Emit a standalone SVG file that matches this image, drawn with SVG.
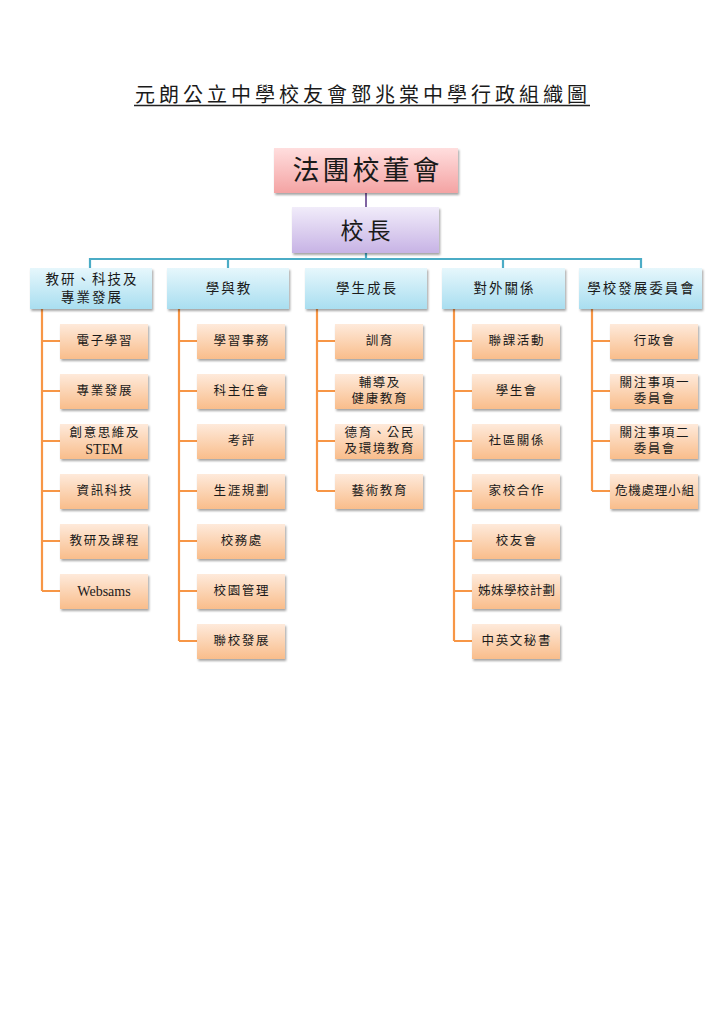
<svg xmlns="http://www.w3.org/2000/svg" width="724" height="1024" viewBox="0 0 724 1024">
<defs>
<linearGradient id="gPink" x1="0" y1="0" x2="0" y2="1"><stop offset="0" stop-color="#ffdede"/><stop offset="1" stop-color="#f4a3a3"/></linearGradient>
<linearGradient id="gLav" x1="0" y1="0" x2="0" y2="1"><stop offset="0" stop-color="#f1ecfa"/><stop offset="1" stop-color="#c7b3e5"/></linearGradient>
<linearGradient id="gBlue" x1="0" y1="0" x2="0" y2="1"><stop offset="0" stop-color="#e6f7fc"/><stop offset="1" stop-color="#a9def0"/></linearGradient>
<linearGradient id="gOr" x1="0" y1="0" x2="0" y2="1"><stop offset="0" stop-color="#feeadb"/><stop offset="1" stop-color="#f9bd8b"/></linearGradient>
<filter id="sh" x="-10%" y="-10%" width="130%" height="140%"><feDropShadow dx="1.2" dy="2" stdDeviation="1" flood-color="#000" flood-opacity="0.35"/></filter>
</defs>
<style>
text{font-family:"Liberation Serif","Noto Sans CJK TC",serif;fill:#1a1a1a;text-anchor:middle;dominant-baseline:central}
.top{fill:url(#gPink);filter:url(#sh)}
.pr{fill:url(#gLav);filter:url(#sh)}
.hd{fill:url(#gBlue);filter:url(#sh)}
.ch{fill:url(#gOr);filter:url(#sh)}
.t1{font-size:27px;letter-spacing:3px}
.t2{font-size:23px;letter-spacing:4px}
.th{font-size:13.5px;letter-spacing:2px}
.tc{font-size:12.5px;letter-spacing:1.6px}
.en{font-size:14px;letter-spacing:0}
.lp{stroke:#8064a2;stroke-width:2;fill:none}
.lb{stroke:#4bacc6;stroke-width:2.2;fill:none}
.lo{stroke:#f79646;stroke-width:2.2;fill:none}
</style>
<rect width="724" height="1024" fill="#ffffff"/>
<g id="title">
<text x="363" y="95" style="font-size:20px;letter-spacing:4px">元朗公立中學校友會鄧兆棠中學行政組織圖</text>
<line x1="134" y1="105.5" x2="590" y2="105.5" stroke="#222" stroke-width="1.3"/>
</g>
<g id="connectors">
<line class="lp" x1="366" y1="193" x2="366" y2="208"/>
<path class="lb" d="M366 253V259M90 268V259H641V268M228 259V268M503 259V268"/>
<path class="lo" d="M42 309V591M42 341H60M42 391H60M42 441H60M42 491H60M42 541H60M42 591H60"/>
<path class="lo" d="M179 309V641M179 341H197M179 391H197M179 441H197M179 491H197M179 541H197M179 591H197M179 641H197"/>
<path class="lo" d="M317 309V491M317 341H335M317 391H335M317 441H335M317 491H335"/>
<path class="lo" d="M454 309V641M454 341H472M454 391H472M454 441H472M454 491H472M454 541H472M454 591H472M454 641H472"/>
<path class="lo" d="M592 309V491M592 341H610M592 391H610M592 441H610M592 491H610"/>
</g>
<g id="board"><rect class="top" x="274" y="148" width="184" height="45"/><text class="t1" x="367.5" y="171">法團校董會</text></g>
<g id="principal"><rect class="pr" x="292" y="207" width="147" height="46"/><text class="t2" x="367.5" y="231">校長</text></g>

<g id="h1"><rect class="hd" x="30" y="268" width="122" height="41"/><text class="th" x="92" y="279">教研、科技及</text><text class="th" x="92" y="297">專業發展</text></g>
<g id="h2"><rect class="hd" x="167" y="268" width="122" height="41"/><text class="th" x="229" y="288">學與教</text></g>
<g id="h3"><rect class="hd" x="305" y="268" width="122" height="41"/><text class="th" x="367" y="288">學生成長</text></g>
<g id="h4"><rect class="hd" x="442" y="268" width="123" height="41"/><text class="th" x="504.5" y="288">對外關係</text></g>
<g id="h5"><rect class="hd" x="579" y="268" width="123" height="41"/><text class="th" x="641.5" y="288">學校發展委員會</text></g>

<g id="c1a"><rect class="ch" x="60" y="324" width="88" height="35"/><text class="tc" x="104.8" y="341">電子學習</text></g>
<g id="c1b"><rect class="ch" x="60" y="374" width="88" height="35"/><text class="tc" x="104.8" y="391">專業發展</text></g>
<g id="c1c"><rect class="ch" x="60" y="424" width="88" height="35"/><text class="tc" x="104.8" y="433">創意思維及</text><text class="en" x="104" y="449">STEM</text></g>
<g id="c1d"><rect class="ch" x="60" y="474" width="88" height="35"/><text class="tc" x="104.8" y="491">資訊科技</text></g>
<g id="c1e"><rect class="ch" x="60" y="524" width="88" height="35"/><text class="tc" x="104.8" y="541">教研及課程</text></g>
<g id="c1f"><rect class="ch" x="60" y="574" width="88" height="35"/><text class="en" x="104" y="591">Websams</text></g>

<g id="c2a"><rect class="ch" x="197" y="324" width="88" height="35"/><text class="tc" x="241.8" y="341">學習事務</text></g>
<g id="c2b"><rect class="ch" x="197" y="374" width="88" height="35"/><text class="tc" x="241.8" y="391">科主任會</text></g>
<g id="c2c"><rect class="ch" x="197" y="424" width="88" height="35"/><text class="tc" x="241.8" y="441">考評</text></g>
<g id="c2d"><rect class="ch" x="197" y="474" width="88" height="35"/><text class="tc" x="241.8" y="491">生涯規劃</text></g>
<g id="c2e"><rect class="ch" x="197" y="524" width="88" height="35"/><text class="tc" x="241.8" y="541">校務處</text></g>
<g id="c2f"><rect class="ch" x="197" y="574" width="88" height="35"/><text class="tc" x="241.8" y="591">校園管理</text></g>
<g id="c2g"><rect class="ch" x="197" y="624" width="88" height="35"/><text class="tc" x="241.8" y="641">聯校發展</text></g>

<g id="c3a"><rect class="ch" x="335" y="324" width="88" height="35"/><text class="tc" x="379.8" y="341">訓育</text></g>
<g id="c3b"><rect class="ch" x="335" y="374" width="88" height="35"/><text class="tc" x="379.8" y="383">輔導及</text><text class="tc" x="379.8" y="399">健康教育</text></g>
<g id="c3c"><rect class="ch" x="335" y="424" width="88" height="35"/><text class="tc" x="379.8" y="433">德育、公民</text><text class="tc" x="379.8" y="449">及環境教育</text></g>
<g id="c3d"><rect class="ch" x="335" y="474" width="88" height="35"/><text class="tc" x="379.8" y="491">藝術教育</text></g>

<g id="c4a"><rect class="ch" x="472" y="324" width="88" height="35"/><text class="tc" x="516.8" y="341">聯課活動</text></g>
<g id="c4b"><rect class="ch" x="472" y="374" width="88" height="35"/><text class="tc" x="516.8" y="391">學生會</text></g>
<g id="c4c"><rect class="ch" x="472" y="424" width="88" height="35"/><text class="tc" x="516.8" y="441">社區關係</text></g>
<g id="c4d"><rect class="ch" x="472" y="474" width="88" height="35"/><text class="tc" x="516.8" y="491">家校合作</text></g>
<g id="c4e"><rect class="ch" x="472" y="524" width="88" height="35"/><text class="tc" x="516.8" y="541">校友會</text></g>
<g id="c4f"><rect class="ch" x="472" y="574" width="88" height="35"/><text class="tc" x="516.8" y="591" style="letter-spacing:0.4px">姊妹學校計劃</text></g>
<g id="c4g"><rect class="ch" x="472" y="624" width="88" height="35"/><text class="tc" x="516.8" y="641">中英文秘書</text></g>

<g id="c5a"><rect class="ch" x="610" y="324" width="88" height="35"/><text class="tc" x="654.8" y="341">行政會</text></g>
<g id="c5b"><rect class="ch" x="610" y="374" width="88" height="35"/><text class="tc" x="654.8" y="383">關注事項一</text><text class="tc" x="654.8" y="399">委員會</text></g>
<g id="c5c"><rect class="ch" x="610" y="424" width="88" height="35"/><text class="tc" x="654.8" y="433">關注事項二</text><text class="tc" x="654.8" y="449">委員會</text></g>
<g id="c5d"><rect class="ch" x="610" y="474" width="88" height="35"/><text class="tc" x="654.8" y="491" style="letter-spacing:0.8px">危機處理小組</text></g>
</svg>
